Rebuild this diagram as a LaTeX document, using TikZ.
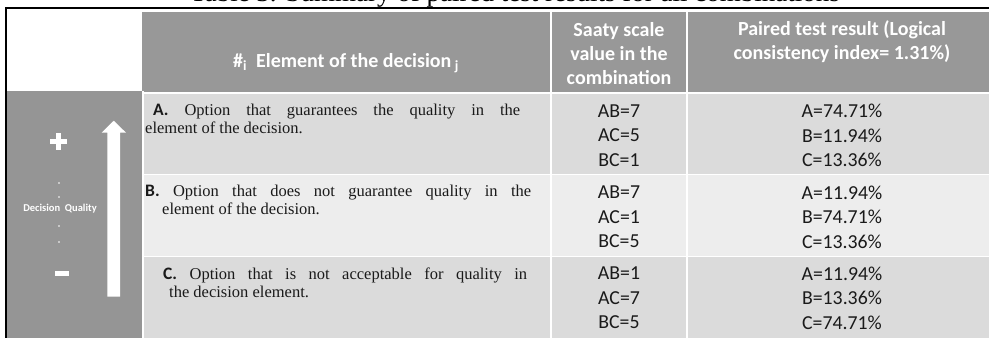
\documentclass[tikz,border=0pt]{standalone}
\usepackage{fontspec}
\setmainfont{Liberation Serif}
\newfontfamily\calib{Carlito}
\definecolor{hdrgray}{HTML}{989898}
\definecolor{sidegray}{HTML}{959595}
\definecolor{rowdark}{HTML}{DBDBDB}
\definecolor{rowlight}{HTML}{EDEDED}
\definecolor{inkblack}{HTML}{1A1A1A}
\tikzset{
  hdrtext/.style={text=white, font=\calib\bfseries\fontsize{20}{24}\selectfont, align=center, inner sep=0pt},
  celltext/.style={text=inkblack, font=\calib\fontsize{19.8}{24.5}\selectfont, align=center, inner sep=0pt},
  optline/.style={anchor=base west, inner sep=0pt, text=inkblack, font=\fontsize{16.5}{18}\selectfont},
  sidetext/.style={text=white, font=\calib\bfseries\fontsize{10.5}{12}\selectfont, inner sep=0pt},
  sep/.style={white, line width=1.6pt},
  dotmark/.style={fill=white, draw=none}
}
\newcommand{\optlabel}[1]{{\calib\bfseries\fontsize{17.5}{18}\selectfont #1}}
% first line of a justified paragraph: spaces stretched to the given width
\newcommand{\justline}[2]{\makebox[#1][s]{#2}}
\begin{document}
\begin{tikzpicture}[x=1pt,y=-1pt]
  \useasboundingbox (0,0) rectangle (989,341);
  % caption line above the table
  \node[anchor=base, inner sep=0pt, font=\fontsize{27}{30}\selectfont] (caption) at (515,1.5)
    {Table 3. Summary of paired test results for all combinations};

  % backgrounds
  \fill[hdrgray] (142,12) rectangle (989,92);
  \fill[sidegray] (7,91) rectangle (142,338);
  \fill[rowdark] (142,93) rectangle (989,174);
  \fill[rowlight] (142,174) rectangle (989,256);
  \fill[rowdark] (142,256) rectangle (989,338);

  % cell separators
  \draw[sep] (142,93) -- (989,93);
  \draw[sep] (142,174.5) -- (989,174.5);
  \draw[sep] (142,256.5) -- (989,256.5);
  \draw[sep] (143,91) -- (143,338);
  \draw[sep] (551,12) -- (551,338);
  \draw[sep] (687,12) -- (687,338);

  % frame
  \draw[black, line width=2pt] (5,7.5) -- (989,7.5);
  \draw[black, line width=2pt] (6,7.5) -- (6,338);

  % header
  \node[hdrtext] (hElem) at (346,63) {\#\textsubscript{i}\ \ Element of the decision\,\textsubscript{j}};
  \node[hdrtext] (hSaaty) at (619,54) {Saaty scale\\value in the\\combination};
  \node[hdrtext] (hPair) at (842,42) {Paired test result (Logical\\consistency index= 1.31\%)};

  % quality scale on the left
  \fill[white] (50,138.5) rectangle (67,143.5);
  \fill[white] (56,132.5) rectangle (61,149.5);
  \fill[white] (55,271) rectangle (69,276);
  \fill[white] (107.3,296.7) -- (107.3,132.7) -- (101.7,132.7) -- (113.8,120.7)
    -- (126,132.7) -- (120,132.7) -- (120,296.7) -- cycle;
  \foreach \yy in {183,197,226,242} \fill[dotmark] (59,\yy) circle (0.9);
  \node[sidetext] (quality) at (60,209) {Decision\ \ Quality};

  % option descriptions
  \node[optline] (a1) at (153,115) {\justline{367pt}{\optlabel{A.} Option that guarantees the quality in the}};
  \node[optline] (a2) at (145,133) {element of the decision.};
  \node[optline] (b1) at (145,196) {\justline{386pt}{\optlabel{B.} Option that does not guarantee quality in the}};
  \node[optline] (b2) at (162,214) {element of the decision.};
  \node[optline] (c1) at (163,279) {\justline{364pt}{\optlabel{C.} Option that is not acceptable for quality in}};
  \node[optline] (c2) at (169,297) {the decision element.};

  % Saaty values
  \node[celltext] (sA) at (619,135.5) {AB=7\\AC=5\\BC=1};
  \node[celltext] (sB) at (619,217) {AB=7\\AC=1\\BC=5};
  \node[celltext] (sC) at (619,298) {AB=1\\AC=7\\BC=5};

  % paired test results
  \node[celltext] (pA) at (842,135.5) {A=74.71\%\\B=11.94\%\\C=13.36\%};
  \node[celltext] (pB) at (842,217) {A=11.94\%\\B=74.71\%\\C=13.36\%};
  \node[celltext] (pC) at (842,298) {A=11.94\%\\B=13.36\%\\C=74.71\%};
\end{tikzpicture}
\end{document}
